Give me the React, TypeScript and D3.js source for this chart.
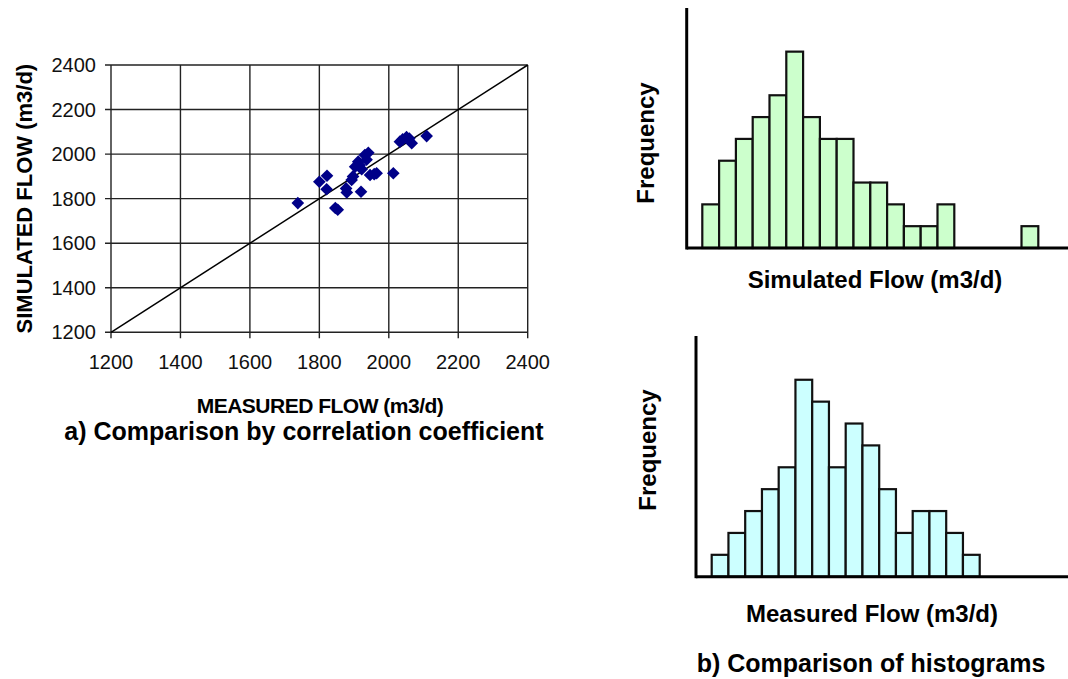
import React, { useEffect, useRef } from "react";
import * as d3 from "d3";

// scatter: measured vs simulated flow (m3/d)
const measured = [1738, 1800, 1822, 1821, 1846, 1853, 1877, 1879, 1893, 1897, 1903, 1912, 1916, 1922, 1931, 1936, 1941, 1946, 1965, 1920, 1958, 2013, 2032, 2040, 2051, 2066, 2059, 2109];
const simulated = [1780, 1876, 1903, 1842, 1758, 1750, 1846, 1828, 1884, 1900, 1943, 1966, 1950, 1932, 1996, 1975, 2006, 1906, 1914, 1831, 1910, 1914, 2056, 2066, 2076, 2049, 2070, 2081];
const flowTicks = [1200, 1400, 1600, 1800, 2000, 2200, 2400];

// histogram bin counts
const simulatedCounts = [2, 4, 5, 6, 7, 9, 6, 5, 5, 3, 3, 2, 1, 1, 2, 0, 0, 0, 0, 1];
const measuredCounts = [1, 2, 3, 4, 5, 9, 8, 5, 7, 6, 4, 2, 3, 3, 2, 1];

const FONT = "'Liberation Sans', Arial, sans-serif";

function drawHistogram(svg, counts, o) {
  const g = svg.append("g");
  const x = d3.scaleLinear().domain([0, counts.length]).range([o.barStart, o.barStart + counts.length * o.binW]);
  const y = d3.scaleLinear().domain([0, 11]).range([o.base, o.top]);

  const bins = counts.map((c, i) => ({ c, i })).filter((d) => d.c > 0);
  g.selectAll("rect")
    .data(bins)
    .enter()
    .append("rect")
    .attr("x", (d) => x(d.i))
    .attr("y", (d) => y(d.c))
    .attr("width", (d) => x(d.i + 1) - x(d.i))
    .attr("height", (d) => y(0) - y(d.c))
    .attr("fill", o.fill)
    .attr("stroke", "#111")
    .attr("stroke-width", 2.2);

  // axes
  g.append("line").attr("x1", o.axisX).attr("x2", o.axisX).attr("y1", o.top).attr("y2", o.base + 1.5)
    .attr("stroke", "#000").attr("stroke-width", 3);
  g.append("line").attr("x1", o.axisX).attr("x2", 1068).attr("y1", o.base).attr("y2", o.base)
    .attr("stroke", "#000").attr("stroke-width", 3);

  g.append("text")
    .attr("transform", `translate(${o.freqX},${o.freqY}) rotate(-90)`)
    .attr("text-anchor", "middle")
    .attr("dominant-baseline", "central")
    .attr("font-family", FONT).attr("font-weight", "bold").attr("font-size", 24)
    .text("Frequency");

  g.append("text")
    .attr("x", o.titleX).attr("y", o.titleY)
    .attr("text-anchor", "middle")
    .attr("font-family", FONT).attr("font-weight", "bold").attr("font-size", 24)
    .text(o.title);
}

function App() {
  const ref = useRef(null);

  useEffect(() => {
    const svg = d3.select(ref.current);
    svg.selectAll("*").remove();

    // ---- a) scatter ----
    const x = d3.scaleLinear().domain([1200, 2400]).range([111, 527.7]);
    const y = d3.scaleLinear().domain([1200, 2400]).range([332.3, 65]);
    const sc = svg.append("g");

    // grid + box
    sc.selectAll(".vg").data(flowTicks).enter().append("line")
      .attr("x1", (d) => x(d)).attr("x2", (d) => x(d))
      .attr("y1", y(2400)).attr("y2", y(1200) + 6)
      .attr("stroke", "#222").attr("stroke-width", 1.4);
    sc.selectAll(".hg").data(flowTicks).enter().append("line")
      .attr("x1", x(1200) - 6).attr("x2", x(2400))
      .attr("y1", (d) => y(d)).attr("y2", (d) => y(d))
      .attr("stroke", "#222").attr("stroke-width", 1.4);

    sc.selectAll(".yl").data(flowTicks).enter().append("text")
      .attr("x", 96).attr("y", (d) => y(d))
      .attr("text-anchor", "end").attr("dominant-baseline", "central")
      .attr("font-family", FONT).attr("font-size", 20).attr("fill", "#111")
      .text((d) => d);
    sc.selectAll(".xl").data(flowTicks).enter().append("text")
      .attr("x", (d) => x(d)).attr("y", 369)
      .attr("text-anchor", "middle")
      .attr("font-family", FONT).attr("font-size", 20).attr("fill", "#111")
      .text((d) => d);

    // 1:1 line
    sc.append("line")
      .attr("x1", x(1200)).attr("y1", y(1200)).attr("x2", x(2400)).attr("y2", y(2400))
      .attr("stroke", "#000").attr("stroke-width", 1.5);

    const diamond = d3.symbol().type(d3.symbolSquare).size(80);
    sc.selectAll(".pt").data(measured).enter().append("path")
      .attr("d", diamond())
      .attr("transform", (d, i) => `translate(${x(d)},${y(simulated[i])}) rotate(45)`)
      .attr("fill", "#000088");

    sc.append("text")
      .attr("transform", `translate(24,${(y(1200) + y(2400)) / 2}) rotate(-90)`)
      .attr("text-anchor", "middle").attr("dominant-baseline", "central")
      .attr("font-family", FONT).attr("font-weight", "bold").attr("font-size", 22)
      .text("SIMULATED FLOW (m3/d)");
    sc.append("text")
      .attr("x", 320).attr("y", 413)
      .attr("text-anchor", "middle")
      .attr("font-family", FONT).attr("font-weight", "bold").attr("font-size", 21)
      .attr("letter-spacing", -0.5)
      .text("MEASURED FLOW (m3/d)");
    sc.append("text")
      .attr("x", 304).attr("y", 440)
      .attr("text-anchor", "middle")
      .attr("font-family", FONT).attr("font-weight", "bold").attr("font-size", 25)
      .text("a) Comparison by correlation coefficient");

    // ---- b) histograms ----
    drawHistogram(svg, simulatedCounts, {
      axisX: 686.7, barStart: 702.3, binW: 16.8, top: 8, base: 248, fill: "#ccffcc",
      freqX: 645, freqY: 143, titleX: 875, titleY: 288, title: "Simulated Flow (m3/d)",
    });
    drawHistogram(svg, measuredCounts, {
      axisX: 696, barStart: 711.7, binW: 16.75, top: 336, base: 576.7, fill: "#ccffff",
      freqX: 647.5, freqY: 450, titleX: 872, titleY: 622, title: "Measured Flow (m3/d)",
    });
    svg.append("text")
      .attr("x", 871).attr("y", 672)
      .attr("text-anchor", "middle")
      .attr("font-family", FONT).attr("font-weight", "bold").attr("font-size", 25)
      .text("b) Comparison of histograms");
  }, []);

  return (
    <svg
      ref={ref}
      width={1068}
      height={679}
      style={{ position: "absolute", left: 0, top: 0, background: "#fff" }}
    />
  );
}

export default App;
